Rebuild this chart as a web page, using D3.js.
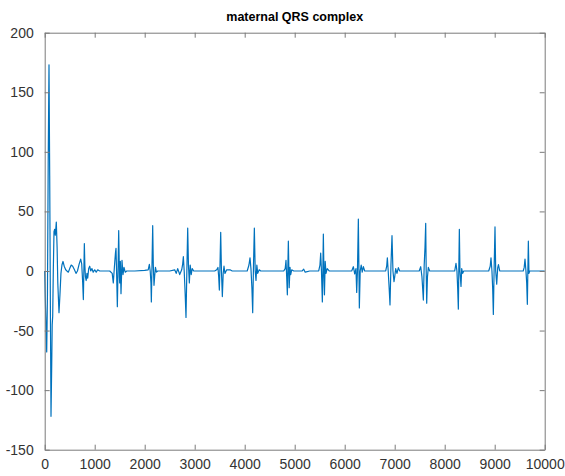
<!DOCTYPE html>
<html>
<head>
<meta charset="utf-8">
<script src="https://cdn.jsdelivr.net/npm/d3@7"></script>
<style>
  html, body { margin: 0; padding: 0; background: #fff; }
  svg { display: block; font-family: "Liberation Sans", Arial, Helvetica, sans-serif; }
</style>
</head>
<body>
<svg id="chart" width="565" height="476"></svg>
<script>
const title = "maternal QRS complex";
const xTicks = [0, 1000, 2000, 3000, 4000, 5000, 6000, 7000, 8000, 9000, 10000];
const yTicks = [-150, -100, -50, 0, 50, 100, 150, 200];

// sample index of each vertex
const sampleIndex = [
  0, 10, 25, 40, 55, 70, 86, 100, 115, 126, 140, 150, 160, 172, 186, 200, 212, 232, 248, 262, 286, 305, 325, 345, 366, 390, 420, 445, 472, 500, 530, 560, 595, 626, 655, 690, 720, 740, 760, 773, 783, 793, 803, 815, 830, 845, 860, 880, 900, 920, 945, 970, 1000, 1030, 1060, 1100,
  1200, 1300, 1350, 1372, 1395, 1415, 1426, 1440, 1453, 1466, 1480, 1495, 1500, 1513, 1526, 1546, 1566, 1586, 1610, 1640,
  1800, 2000, 2070, 2093, 2110, 2125, 2133, 2146, 2160, 2172, 2186, 2200, 2215, 2235, 2260,
  2500, 2600, 2630, 2660, 2700, 2740, 2760, 2773, 2790, 2810, 2826, 2843, 2860, 2875, 2893, 2910, 2930, 2950, 2980,
  3200, 3400, 3440, 3465, 3480, 3493, 3506, 3520, 3535, 3553, 3570, 3586, 3605, 3640, 3706, 3750,
  3900, 4050, 4085, 4106, 4125, 4145, 4160, 4176, 4193, 4210, 4226, 4243, 4260, 4290, 4320,
  4600, 4780, 4810, 4826, 4840, 4853, 4864, 4873, 4890, 4906, 4920, 4940, 4980,
  5150, 5180, 5210, 5300, 5480, 5505, 5520, 5535, 5553, 5563, 5573, 5586, 5595, 5610, 5626, 5650, 5690,
  5900, 6140, 6173, 6200, 6225, 6240, 6255, 6273, 6285, 6293, 6310, 6330, 6350, 6373, 6400,
  6700, 6820, 6840, 6853, 6870, 6890, 6906, 6925, 6946, 6965, 6986, 7000, 7020, 7045, 7073, 7100,
  7300, 7490, 7520, 7545, 7560, 7573, 7590, 7606, 7620, 7630, 7640, 7655, 7673, 7700,
  8000, 8200, 8226, 8245, 8260, 8273, 8283, 8293, 8305, 8326, 8340, 8360, 8380,
  8700, 8880, 8910, 8926, 8945, 8960, 8973, 8990, 9006, 9020, 9040, 9060, 9075, 9100, 9130,
  9400, 9570, 9590, 9606, 9625, 9640, 9653, 9663, 9673, 9685, 9700, 9750, 10000
];
// amplitude at each vertex
const amplitude = [
  0, -20, -45, -68, -20, 90, 173, 80, -40, -122, -80, -45, -38, 0, 33, 35, 30, 41, 20, -10, -35, -20, -2, 5, 8, 4, 1, 0, -1, 2, 5, 4, 1, -2, 0, 6, 10, 6, -10, -24, 0, 23, 5, -5, -8, -2, -6, 2, 4, 0, 2, -1, 1, -1, 1, 0,
  0, 0, -2, -10, 4, 15, 19, -5, -30, 0, 34, -5, -10, 8, -19, 9, -3, 3, -1, 0,
  0, 0.5, 1, 5.6, 0, -10, -26, 5, 38, 5, -12, -4, 3, -1, 0,
  0, 1, -2, 2, -3, 1, 6, 12, 0, -20, -39, 0, 36, 5, -10, 5, -3, 2, 0,
  0, 0, 1, 3, -5, -16, 5, 32.5, 0, -21.5, -2, 4, -2, 1, 1, 0,
  0, 0, 5, 11, 2, -15, -35, 5, 36, 0, -8, 5, -2, 1, 0,
  0, 0, 2, 9, -5, -20, 5, 25, -14, 3, -3, 1, 0,
  0, 1.5, -1, 0, 0, 5, 15, 0, -26, 0, 31, -5, -20, 8, -2, 2, 0,
  0, 0, 3.6, -2.5, 2, -18, 0, 43.6, 0, -31, 0, 5, -1, 3.6, 0,
  0, 0, 4, 11, 0, -15, -28.5, 5, 29.6, 0, -9, -5, 2, -2, 2.8, 0,
  0, 0, 3.6, -5, -15, -24.4, 5, 20, 40, 0, -27, -5, 3, 0,
  0, 0, 6.4, 0, -15, -32, 5, 35, 0, -13, 2, -2, 0,
  0, 0, 4, 11, 0, -15, -36.5, 5, 37, 0, -11, 2.6, 5.3, 0, 0,
  0, 0, 3, 10, 0, -10, -28, 0, 25, -2, 0, 0, 0
];

const svg = d3.select("#chart");
const L = 44.7, R = 544.7, T = 32.7, B = 449.7;
const xScale = d3.scaleLinear().domain([0, 10000]).range([L, R]);
const yScale = d3.scaleLinear().domain([-150, 200]).range([B, T]);

const axisColor = "#7a7a7a";
const textColor = "#333333";
const plainFormat = d => String(d);

// data line
const pts = sampleIndex.map((t, i) => [t, amplitude[i]]);
svg.append("path")
  .datum(pts)
  .attr("fill", "none")
  .attr("stroke", "#0072BD")
  .attr("stroke-width", 1.2)
  .attr("stroke-linejoin", "round")
  .attr("d", d3.line().x(d => xScale(d[0])).y(d => yScale(d[1])));

// axes (ticks inward, mirrored on all four sides)
const fontSize = 14;
const gBottom = svg.append("g").attr("transform", `translate(0,${B})`)
  .call(d3.axisBottom(xScale).tickValues(xTicks).tickFormat(plainFormat).tickSizeInner(-5).tickSizeOuter(0).tickPadding(9));
const gTop = svg.append("g").attr("transform", `translate(0,${T})`)
  .call(d3.axisTop(xScale).tickValues(xTicks).tickFormat("").tickSizeInner(-5).tickSizeOuter(0));
const gLeft = svg.append("g").attr("transform", `translate(${L},0)`)
  .call(d3.axisLeft(yScale).tickValues(yTicks).tickFormat(plainFormat).tickSizeInner(-5).tickSizeOuter(0).tickPadding(11));
const gRight = svg.append("g").attr("transform", `translate(${R},0)`)
  .call(d3.axisRight(yScale).tickValues(yTicks).tickFormat("").tickSizeInner(-5).tickSizeOuter(0));

[gBottom, gTop, gLeft, gRight].forEach(g => {
  g.select(".domain").attr("stroke", axisColor).attr("stroke-width", 1);
  g.selectAll(".tick line").attr("stroke", axisColor).attr("stroke-width", 1);
  g.selectAll(".tick text").attr("fill", textColor).attr("font-size", fontSize)
    .attr("font-family", "'Liberation Sans', Arial, Helvetica, sans-serif");
});

svg.append("text")
  .attr("x", (L + R) / 2)
  .attr("y", 21)
  .attr("text-anchor", "middle")
  .attr("font-size", 12.5)
  .attr("font-weight", "bold")
  .attr("fill", "#000")
  .text(title);
</script>
</body>
</html>
